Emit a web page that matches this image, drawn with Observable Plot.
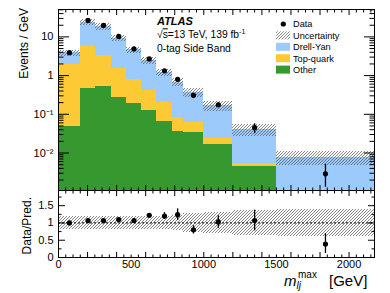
<!DOCTYPE html>
<html><head><meta charset="utf-8">
<script src="https://cdn.jsdelivr.net/npm/d3@7"></script>
<script src="https://cdn.jsdelivr.net/npm/@observablehq/plot@0.6"></script>
<style>
body{margin:0;background:#fff;}
#wrap{position:relative;width:390px;height:293px;font-family:"Liberation Sans",Arial,sans-serif;}
#wrap > svg{display:block}
#overlay{position:absolute;left:0;top:0;pointer-events:none;font-family:"Liberation Sans",Arial,sans-serif;}
</style></head>
<body>
<svg width="0" height="0" style="position:absolute">
<defs><pattern id="hatch" patternUnits="userSpaceOnUse" width="3" height="3">
<path d="M-1,1 L1,-1 M0,3 L3,0 M2,4 L4,2" stroke="#555" stroke-width="0.7"/></pattern></defs></svg>
<div id="wrap">
</div>
<script>
// ---- data ----
const binEdges  = [0,150,257,362,467,572,677,782,858,1000,1200,1500,2175];
const other     = [0.047,0.475,0.526,0.278,0.188,0.126,0.067,0.036,0.0347,0.0167,0.00458,0.0004];
const topQuark  = [1.903,5.325,2.774,1.222,0.592,0.289,0.139,0.046,0.026,0.0076,0.0007,0.0002];
const drellYan  = [1.90,18.2,15.0,7.5,3.82,1.985,0.994,0.598,0.314,0.1407,0.0354,0.0071];
const dataVals  = [3.9,26.7,19.8,10.3,4.9,2.7,1.33,0.80,0.31,0.176,0.045,0.0029];
const dataLo    = [3.7,25.9,19.1,9.8,4.6,2.5,1.22,0.72,0.27,0.155,0.0316,0.0013];
const dataHi    = [4.1,27.5,20.5,10.8,5.2,2.9,1.44,0.88,0.35,0.198,0.057,0.0051];
const relUnc    = [0.18,0.18,0.18,0.18,0.18,0.19,0.20,0.22,0.27,0.30,0.35,0.38];
const ratio     = [1.00,1.07,1.07,1.10,1.07,1.22,1.20,1.24,0.80,1.03,1.07,0.39];
const ratioLo   = [0.98,1.05,1.05,1.07,1.03,1.17,1.10,1.07,0.68,0.85,0.77,0.12];
const ratioHi   = [1.02,1.09,1.09,1.13,1.11,1.27,1.30,1.41,0.92,1.21,1.37,0.69];
const yMajorTop = [0.01,0.1,1,10];
const yTopLabels = ["10\u207B\u00B2","10\u207B\u00B9","1","10"];
const xLabels   = [0,500,1000,1500,2000];
const yRatioLabels = [0,0.5,1,1.5];

const C_DY = "#9ccbfb", C_TOP = "#fdca35", C_OTHER = "#36992f";

const bins = binEdges.slice(0,-1).map((x1,i)=>({
  x1, x2: binEdges[i+1], xc: (x1+binEdges[i+1])/2,
  other: other[i], top: other[i]+topQuark[i], total: other[i]+topQuark[i]+drellYan[i],
  data: dataVals[i], lo: dataLo[i], hi: dataHi[i], unc: relUnc[i],
  ratio: ratio[i], rlo: ratioLo[i], rhi: ratioHi[i]
}));

// tick positions
const xLong = d3.range(0, 2175, 200);
const xShort = d3.range(0, 2175, 50).filter(v => v % 200 !== 0);
const yMinorTop = [];
for (let e = -3; e <= 1; e++) for (let m = 2; m <= 9; m++) { const v = m*Math.pow(10,e); if (v > 1.074e-3 && v < 51) yMinorTop.push(v); }
const yMinorRatio = [0.25,0.75,1.25,1.75];

const style = {fontFamily:'"Liberation Sans", Arial, sans-serif', fontSize:"11px", background:"transparent", color:"black"};
const tk = (axisFn, opts) => axisFn({...opts, fill:"none", label:null, stroke:"black", strokeWidth:1});
const crisp = {shapeRendering:"crispEdges"};

const topPlot = Plot.plot({
  width:390, height:190, marginLeft:58, marginRight:16, marginTop:9, marginBottom:0,
  style,
  x:{domain:[0,2175]},
  y:{type:"log", domain:[1.074e-3, 51]},
  marks:[
    Plot.rect(bins,{x1:"x1",x2:"x2",y1:()=>1e-5,y2:"total",fill:C_DY,clip:true,...crisp}),
    Plot.rect(bins,{x1:"x1",x2:"x2",y1:()=>1e-5,y2:"top",fill:C_TOP,clip:true,...crisp}),
    Plot.rect(bins,{x1:"x1",x2:"x2",y1:()=>1e-5,y2:"other",fill:C_OTHER,clip:true,...crisp}),
    Plot.rect(bins,{x1:"x1",x2:"x2",y1:d=>d.total*(1-d.unc),y2:d=>d.total*(1+d.unc),fill:"url(#hatch)",clip:true,...crisp}),
    Plot.ruleX(bins,{x:"xc",y1:"lo",y2:"hi",stroke:"black",strokeWidth:1.3,clip:true}),
    Plot.dot(bins,{x:"xc",y:"data",r:2.6,fill:"black",stroke:null}),
    Plot.axisY({ticks:yMajorTop,tickSize:0,tickPadding:5,tickFormat:v=>yTopLabels[yMajorTop.indexOf(v)],label:null,fontSize:11}),
    tk(Plot.axisY,{anchor:"left",ticks:yMajorTop,tickSize:-11}),
    tk(Plot.axisY,{anchor:"left",ticks:yMinorTop,tickSize:-5.5}),
    tk(Plot.axisY,{anchor:"right",ticks:yMajorTop,tickSize:-11}),
    tk(Plot.axisY,{anchor:"right",ticks:yMinorTop,tickSize:-5.5}),
    tk(Plot.axisX,{anchor:"bottom",ticks:xLong,tickSize:-5}),
    tk(Plot.axisX,{anchor:"bottom",ticks:xShort,tickSize:-2.5}),
    tk(Plot.axisX,{anchor:"top",ticks:xLong,tickSize:-5}),
    tk(Plot.axisX,{anchor:"top",ticks:xShort,tickSize:-2.5}),
    Plot.frame({stroke:"black",strokeWidth:1})
  ]
});

const bottomPlot = Plot.plot({
  width:390, height:103, marginLeft:58, marginRight:16, marginTop:0, marginBottom:36,
  style,
  x:{domain:[0,2175]},
  y:{domain:[0,1.94]},
  marks:[
    Plot.rect(bins,{x1:"x1",x2:"x2",y1:d=>1-d.unc,y2:d=>1+d.unc,fill:"url(#hatch)",...crisp}),
    Plot.ruleY([1],{stroke:"#222",strokeDasharray:"2,2",strokeWidth:1.2}),
    Plot.ruleX(bins,{x:"xc",y1:"rlo",y2:"rhi",stroke:"black",strokeWidth:1.3}),
    Plot.dot(bins,{x:"xc",y:"ratio",r:2.6,fill:"black",stroke:null}),
    Plot.axisX({ticks:xLabels,tickSize:0,tickPadding:3,label:null,fontSize:11,tickFormat:d=>String(d)}),
    Plot.axisY({ticks:yRatioLabels,tickSize:0,tickPadding:5,label:null,fontSize:11,tickFormat:d=>String(d)}),
    tk(Plot.axisY,{anchor:"left",ticks:yRatioLabels,tickSize:-7}),
    tk(Plot.axisY,{anchor:"left",ticks:yMinorRatio,tickSize:-3.5}),
    tk(Plot.axisY,{anchor:"right",ticks:yRatioLabels,tickSize:-7}),
    tk(Plot.axisY,{anchor:"right",ticks:yMinorRatio,tickSize:-3.5}),
    tk(Plot.axisX,{anchor:"bottom",ticks:xLong,tickSize:-5}),
    tk(Plot.axisX,{anchor:"bottom",ticks:xShort,tickSize:-2.5}),
    tk(Plot.axisX,{anchor:"top",ticks:xLong,tickSize:-5}),
    tk(Plot.axisX,{anchor:"top",ticks:xShort,tickSize:-2.5}),
    Plot.frame({stroke:"black",strokeWidth:1})
  ]
});

const wrap = document.getElementById("wrap");
wrap.appendChild(topPlot);
wrap.appendChild(bottomPlot);

// ---- annotations, legend, axis titles ----
const legendItems = [
  {label:"Data", kind:"dot"},
  {label:"Uncertainty", kind:"url(#hatch)"},
  {label:"Drell-Yan", kind:C_DY},
  {label:"Top-quark", kind:C_TOP},
  {label:"Other", kind:C_OTHER}
];
let leg = "";
legendItems.forEach((it,i)=>{
  const cy = 24 + i*11.4;
  if (it.kind === "dot") leg += `<circle cx="283.3" cy="${cy}" r="2.6" fill="black"/>`;
  else leg += `<rect x="276" y="${cy-4}" width="14" height="8" fill="${it.kind}"/>`;
  leg += `<text x="293" y="${cy+3.3}" font-size="9.2">${it.label}</text>`;
});
const ov = `<svg id="overlay" width="390" height="293" xmlns="http://www.w3.org/2000/svg">
<text x="157" y="25" font-size="11" font-weight="bold" font-style="italic">ATLAS</text>
<text x="157" y="38.3" font-size="10.3">√<tspan text-decoration="overline">s</tspan>=13 TeV, 139 fb<tspan dy="-4" font-size="7">-1</tspan></text>
<text x="157" y="51.5" font-size="10.3">0-tag Side Band</text>
${leg}
<text transform="translate(28.3,8) rotate(-90)" text-anchor="end" font-size="12">Events / GeV</text>
<text transform="translate(31.3,197) rotate(-90)" text-anchor="end" font-size="12">Data/Pred.</text>
<text x="284" y="285.5" font-size="15"><tspan font-style="italic">m</tspan><tspan font-size="10" font-style="italic" dy="3">lj</tspan><tspan x="298" dy="-10.5" font-size="10">max</tspan><tspan x="329" dy="7.5">[GeV]</tspan></text>
</svg>`;
wrap.insertAdjacentHTML("beforeend", ov);
</script>
</body></html>
